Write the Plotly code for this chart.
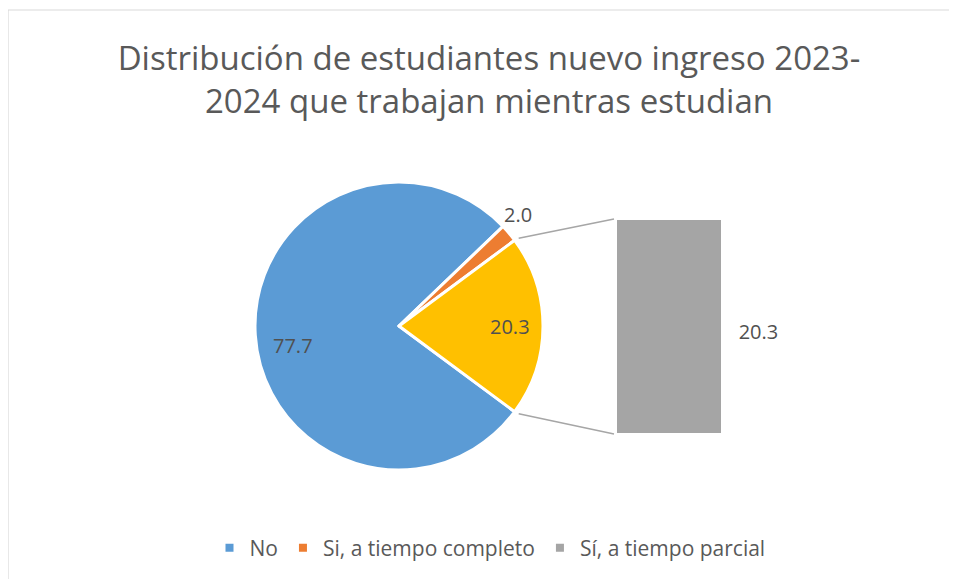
import math
import plotly.graph_objects as go

# datos
pie_labels = ['No', 'Si, a tiempo completo']
pie_values = [77.7, 2.0]
bar_labels = ['Sí, a tiempo parcial']
bar_values = [20.3]

colors_pie = ['#5B9BD5', '#ED7D31']
color_other = '#FFC000'
color_bar = '#A5A5A5'
text_color = '#595959'
label_color = '#505050'

W, H = 957, 579
OFF = 8  # page body margin
# pie geometry in pixels
cx, cy, r = 399, 326, 144
# bar column geometry in pixels
bx0, bx1, by0, by1 = 617, 721, 220, 433


def px(x):
    return (x - OFF) / W


def py(y):
    return 1 - (y - OFF) / H


otro = sum(bar_values)
vals = pie_values + [otro]
total = sum(vals)
half = otro / total * 180  # half angle of the "other" slice

fig = go.Figure()

fig.add_trace(go.Pie(
    labels=pie_labels + ['Otro'],
    values=vals,
    sort=False,
    direction='clockwise',
    rotation=90 + half,
    marker=dict(colors=colors_pie + [color_other], line=dict(color='white', width=3)),
    textinfo='none',
    domain=dict(x=[px(cx - r), px(cx + r)], y=[py(cy + r), py(cy - r)]),
    showlegend=False,
    hoverinfo='label+value',
))

fig.add_trace(go.Bar(
    x=[0], y=bar_values, width=1,
    marker=dict(color=color_bar, line=dict(width=0)),
    showlegend=False, name=bar_labels[0],
))
# etiqueta de la barra
fig.add_trace(go.Scatter(
    x=[0.86], y=[v / 2 - 0.7 for v in bar_values], mode='text',
    text=['%.1f' % v for v in bar_values],
    textfont=dict(size=20, color=label_color, family='Open Sans'),
    showlegend=False, hoverinfo='skip',
))

# legend entries
for name, col in zip(pie_labels + bar_labels, colors_pie + [color_bar]):
    fig.add_trace(go.Scatter(
        x=[None], y=[None], mode='markers', name=name,
        marker=dict(symbol='square', size=8, color=col),
    ))

unit = bx1 - bx0
fig.update_xaxes(domain=[px(bx0), px(bx0 + 185)],
                 range=[-0.5, -0.5 + 185 / unit],
                 visible=False, fixedrange=True)
fig.update_yaxes(domain=[py(by1), py(by0)], range=[0, sum(bar_values)],
                 visible=False, fixedrange=True)

# pie data labels, placed from the slice angles (clockwise from the start)
start = 90 + half
lab_r = [0.75, 1.13, 0.77]
lab_shift = [-7, -3, 0]
annotations = []
acc = 0
for v, rf, sh in zip(vals, lab_r, lab_shift):
    mid = start + (acc + v / 2) / total * 360 + sh  # clock angle
    a = math.radians(mid)
    x = cx + rf * r * math.sin(a)
    y = cy - rf * r * math.cos(a)
    annotations.append(dict(x=px(x), y=py(y), xref='paper', yref='paper',
                            xanchor='center', yanchor='middle',
                            text='%.1f' % v, showarrow=False,
                            font=dict(size=20, color=label_color, family='Open Sans')))
    acc += v

# connector lines from the pie to the bar
a_top = math.radians(half)
top_pt = (cx + r * math.cos(a_top), cy - r * math.sin(a_top))
bot_pt = (cx + r * math.cos(a_top), cy + r * math.sin(a_top))
shapes = [
    dict(type='line', xref='paper', yref='paper',
         x0=px(top_pt[0] + 4), y0=py(top_pt[1] - 2), x1=px(bx0 - 3), y1=py(by0 - 1),
         line=dict(color='#A6A6A6', width=1.5)),
    dict(type='line', xref='paper', yref='paper',
         x0=px(bot_pt[0] + 4), y0=py(bot_pt[1] + 2), x1=px(bx0 - 3), y1=py(by1 + 1),
         line=dict(color='#A6A6A6', width=1.5)),
    # chart area border
    dict(type='rect', xref='paper', yref='paper',
         x0=px(8), y0=py(600), x1=px(975), y1=py(10),
         line=dict(color='#D9D9D9', width=1.2), layer='below'),
]

fig.update_layout(
    width=W, height=H,
    margin=dict(l=0, r=0, t=0, b=0),
    paper_bgcolor='white', plot_bgcolor='white',
    title=dict(
        text='Distribución de estudiantes nuevo ingreso 2023-<br>2024 que trabajan mientras estudian',
        x=px(489), xanchor='center', y=py(70), yanchor='middle', yref='paper',
        font=dict(family='Open Sans', size=33, color=text_color),
    ),
    legend=dict(orientation='h', x=px(490), xanchor='center', y=py(548), yanchor='middle',
                font=dict(family='Open Sans', size=21, color=text_color),
                itemwidth=30, bgcolor='rgba(0,0,0,0)'),
    shapes=shapes,
    annotations=annotations,
    barmode='overlay',
)

fig.write_html("out.html")
